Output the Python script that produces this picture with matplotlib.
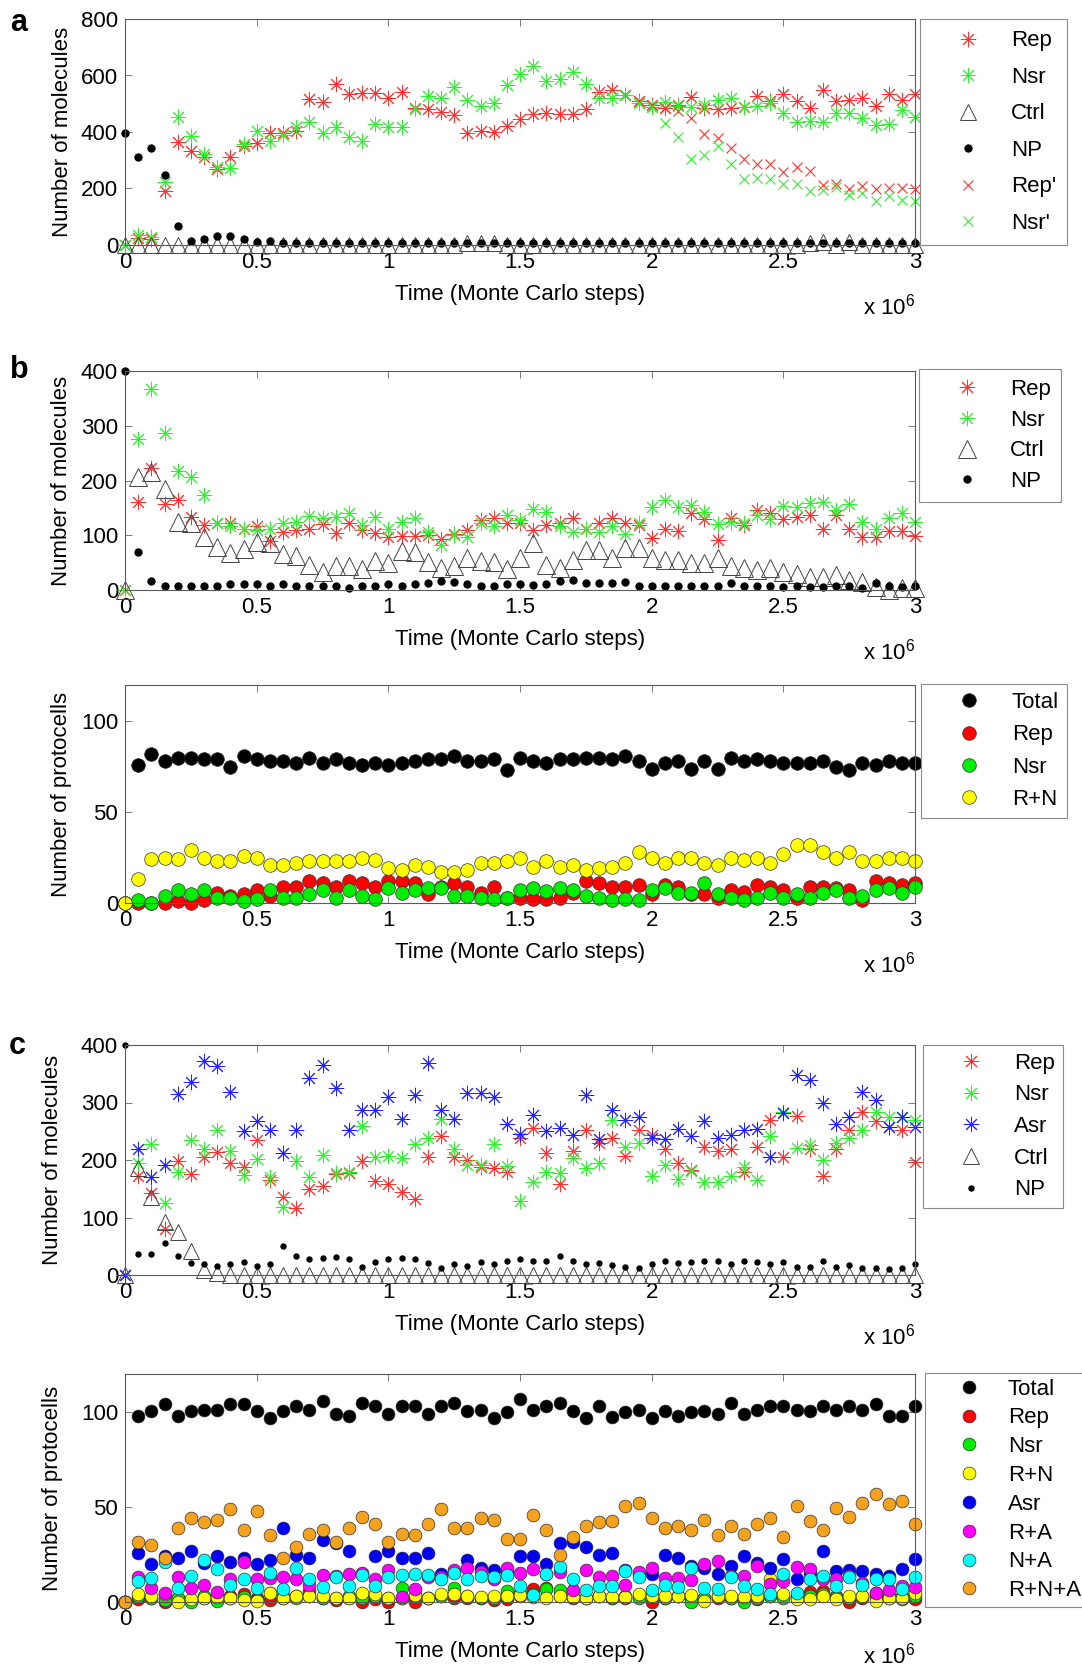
import numpy as np
import matplotlib
matplotlib.use("Agg")
import matplotlib.pyplot as plt
from matplotlib.transforms import offset_copy

plt.rcParams['font.family'] = 'Liberation Sans'
plt.rcParams['mathtext.fontset'] = 'custom'
plt.rcParams['mathtext.rm'] = 'Liberation Sans'

# time axis (units of 10^6 Monte Carlo steps), one sample every 0.05
steps = np.arange(61) * 0.05
nan = np.nan

# ---- panel a: molecules ----
a_rep = [0, 25, 20, 190, 365, 334, 313, 269, 310, 349,
         360, 396, 396, 405, 517, 506, 570, 533, 539, 539,
         521, 541, 485, 480, 471, 460, 395, 402, 400, 422,
         445, 462, 466, 462, 462, 482, 541, 548, 530, 509,
         494, 484, 494, 525, 484, 482, 484, 489, 527, 509,
         533, 509, 486, 548, 509, 512, 519, 492, 533, 515,
         533]
a_nsr = [0, 35, 29, 222, 454, 386, 322, 275, 274, 357,
         402, 369, 389, 416, 436, 395, 419, 384, 369, 427,
         416, 416, 482, 527, 521, 560, 515, 492, 501, 568,
         607, 632, 582, 588, 611, 570, 521, 521, 530, 503,
         489, 506, 492, 488, 497, 515, 521, 489, 492, 503,
         468, 437, 440, 436, 468, 468, 451, 425, 430, 477,
         454]
a_ctrl = [0, 0, 0, 0, 0, 0, 0, 0, 0, 0,
          0, 0, 0, 0, 0, 0, 0, 0, 0, 0,
          0, 0, 0, 0, 0, 0, 8, 6, 8, 0,
          0, 0, 0, 0, 0, 0, 0, 0, 0, 0,
          0, 0, 0, 0, 0, 0, 0, 0, 0, 0,
          0, 0, 8, 10, 0, 9, 0, 0, 0, 0,
          0]
a_np = [398, 313, 342, 248, 67, 15, 21, 32, 32, 21,
        12, 14, 7, 8, 7, 6, 7, 8, 7, 6,
        7, 8, 6, 7, 6, 7, 8, 7, 6, 7,
        6, 7, 8, 7, 6, 7, 6, 7, 8, 7,
        6, 8, 7, 6, 7, 8, 6, 7, 7, 6,
        7, 8, 6, 7, 7, 6, 8, 7, 6, 7,
        7]
a_rep2 = [nan] * 38 + [530, 509,
          494, 484, 474, 451, 392, 377, 342, 304, 287, 287,
          258, 275, 263, 211, 217, 199, 208, 197, 201, 201,
          197]
a_nsr2 = [nan] * 38 + [530, 503,
          489, 433, 384, 304, 318, 349, 287, 232, 238, 232,
          217, 217, 190, 196, 205, 178, 185, 156, 173, 160,
          156]

# ---- panel b: molecules ----
b_rep = [0, 161, 222, 157, 164, 134, 119, 123, 122, 112,
         116, 89, 106, 109, 112, 120, 105, 123, 109, 105,
         97, 98, 98, 100, 94, 103, 109, 128, 131, 123,
         122, 109, 119, 122, 131, 111, 122, 131, 123, 118,
         95, 111, 108, 140, 129, 92, 131, 119, 146, 140,
         129, 134, 137, 111, 137, 111, 96, 96, 108, 108,
         98]
b_nsr = [0, 275, 368, 286, 218, 207, 173, 123, 116, 112,
         109, 111, 122, 125, 135, 131, 134, 140, 119, 134,
         112, 125, 131, 106, 82, 100, 97, 122, 116, 137,
         128, 148, 142, 117, 106, 112, 106, 117, 103, 123,
         152, 164, 152, 156, 143, 120, 125, 122, 137, 129,
         154, 151, 159, 161, 146, 157, 125, 111, 131, 141,
         125]
b_ctrl = [0, 207, 216, 184, 125, 122, 96, 78, 67, 75,
          88, 85, 66, 63, 46, 33, 43, 43, 38, 53,
          50, 72, 69, 52, 40, 44, 58, 53, 52, 38,
          58, 85, 46, 40, 55, 73, 73, 58, 76, 76,
          58, 55, 55, 49, 49, 58, 44, 41, 36, 40,
          33, 30, 24, 24, 27, 19, 15, 6, 0, 3,
          3]
b_np = [400, 70, 17, 7, 7, 7, 7, 7, 11, 11,
        11, 7, 11, 7, 7, 7, 7, 4, 7, 7,
        11, 7, 11, 13, 17, 15, 11, 7, 7, 11,
        11, 9, 11, 17, 18, 13, 13, 13, 14, 7,
        7, 7, 7, 7, 7, 7, 13, 7, 7, 7,
        5, 7, 5, 5, 7, 7, 4, 12, 7, 5,
        7]

# ---- panel b: protocells ----
bb_total = [0, 76, 82, 78, 80, 80, 79, 79, 75, 81,
            79, 78, 78, 77, 80, 77, 79, 77, 76, 77,
            76, 77, 78, 79, 79, 81, 78, 78, 79, 73,
            80, 78, 77, 79, 79, 80, 80, 79, 81, 78,
            74, 77, 78, 74, 78, 74, 80, 78, 79, 78,
            77, 77, 77, 78, 75, 73, 77, 76, 78, 77,
            77]
bb_rep = [0, 0, 0, 0, 1, 0, 1.5, 5.5, 4, 5,
          7, 4, 9, 9, 12, 11, 9, 12, 11, 9,
          12, 12, 11, 5, 9, 11, 9, 5.5, 9, 3,
          3, 2, 2, 3, 5.5, 12, 11, 9, 9, 10,
          5, 10, 9, 5, 5, 2.5, 7, 6, 10, 9,
          7, 3, 9, 9, 8, 7, 1.5, 12, 11, 10,
          11]
bb_nsr = [0, 1.5, 0, 4, 7, 5, 7, 3, 3, 1,
          2, 7, 3, 3, 5, 7, 3, 7, 4, 2,
          8, 5.5, 7, 8, 8, 4, 4, 2.5, 2, 3,
          7, 8, 6.5, 8.5, 7, 4, 3, 1.5, 2, 1.5,
          7, 8, 5.5, 5.5, 11, 5, 3, 1.5, 2.5, 5.5,
          3, 5, 3, 5.5, 7, 3, 4, 7, 8, 5.5,
          9]
bb_rn = [0, 13, 24, 24.5, 24, 29, 25, 23, 23, 26,
         24.5, 21, 21, 22, 23, 23, 23, 23, 24.5, 23.5,
         19.5, 18, 21, 20, 17, 17, 18, 22, 22, 23,
         24.5, 20, 23, 20, 21, 18, 19, 20, 22, 28,
         25, 22, 24.5, 24.5, 22, 21, 25, 23.5, 24.5, 22,
         27, 32, 32, 28, 24.5, 28, 23, 23, 24.5, 25,
         23]

# ---- panel c: molecules ----
c_rep = [0, 172, 142, 80, 199, 176, 205, 214, 194, 188,
         234, 165, 135, 117, 149, 155, 175, 177, 198, 163,
         158, 144, 132, 206, 242, 206, 200, 188, 186, 180,
         238, 255, 212, 158, 216, 252, 230, 239, 207, 253,
         243, 220, 194, 183, 223, 216, 220, 179, 223, 270,
         206, 277, 220, 172, 219, 253, 284, 268, 258, 253,
         197]
c_nsr = [0, 194, 227, 126, 180, 235, 219, 253, 216, 174,
         201, 171, 119, 199, 171, 209, 177, 180, 259, 205,
         207, 204, 228, 238, 272, 220, 191, 191, 227, 190,
         129, 161, 180, 177, 203, 186, 194, 270, 222, 230,
         173, 191, 167, 181, 161, 162, 173, 188, 166, 242,
         284, 221, 226, 200, 230, 239, 252, 284, 275, 274,
         270]
c_asr = [0, 219, 171, 191, 314, 336, 373, 364, 319, 251,
         268, 253, 213, 253, 343, 366, 326, 252, 287, 287,
         310, 271, 313, 369, 287, 271, 316, 317, 310, 263,
         245, 278, 251, 256, 243, 313, 236, 287, 270, 274,
         239, 236, 254, 242, 268, 239, 243, 252, 254, 206,
         281, 347, 339, 299, 263, 274, 319, 304, 257, 274,
         257]
c_ctrl = [0, 186, 136, 93, 74, 41, 8, 4, 0, 0,
          0, 0, 0, 0, 0, 0, 0, 0, 0, 0,
          0, 0, 0, 0, 0, 0, 0, 0, 0, 0,
          0, 0, 0, 0, 0, 0, 0, 0, 0, 0,
          0, 0, 0, 0, 0, 0, 0, 0, 0, 0,
          0, 0, 0, 0, 0, 0, 0, 0, 0, 0,
          0]
c_np = [400, 36, 36, 55, 33, 21, 19, 16, 19, 22,
        16, 19, 50, 33, 27, 30, 32, 27, 14, 22,
        27, 30, 27, 21, 13, 19, 16, 22, 19, 24,
        27, 24, 24, 33, 25, 19, 21, 17, 14, 12,
        19, 25, 21, 22, 25, 25, 19, 25, 22, 19,
        22, 14, 14, 25, 14, 17, 12, 12, 10, 13,
        19]

# ---- panel c: protocells ----
cb_total = [0, 98, 100.5, 104, 98, 100.5, 101, 101, 104, 104,
            100.5, 97, 100.5, 103, 101, 106, 99, 98, 105, 103,
            99, 103, 103, 99, 103, 105, 100.5, 101, 97, 100,
            107, 101, 103, 105, 100.5, 97, 103, 97.5, 100, 101,
            97, 100.5, 98, 100, 100.5, 99, 104.5, 99, 101, 103,
            103, 101, 100.5, 103, 101, 103, 101, 104, 98, 98,
            103]
cb_rep = [0, 1.5, 2, 0, 2, 1, 2, 1, 3, 4,
          2, 1, 2, 3, 6, 2, 1, 2, 0, 1.5,
          0, 2, 0, 2, 3, 2, 2, 2, 1, 1.5,
          3, 7, 7.5, 3, 2, 2, 3, 2, 2, 3,
          0, 2, 3, 2, 2, 2, 2, 1, 1.5, 3,
          3, 2, 5.5, 6, 3, 0, 2, 3, 2, 3,
          1.5]
cb_nsr = [0, 3, 2, 1, 2, 0, 3, 0.5, 2, 2.5,
          1, 5, 3, 2, 3, 2, 2, 3, 2, 3,
          2, 7.5, 3, 2, 3, 7.5, 3, 2, 2, 6,
          5, 4, 7, 6.5, 3, 2, 3, 2, 3, 2,
          3, 2, 3, 0, 2, 3, 2, 0, 2, 3,
          2, 3, 3, 4, 2.5, 2, 3, 5, 3, 1.5,
          3]
cb_rn = [0, 4, 3, 4, 0, 1.5, 2, 2.5, 2, 1,
         0.5, 5, 2, 3, 3, 3, 2, 2, 4.5, 4,
         2, 2, 3.5, 2, 4, 4, 3, 2.5, 3, 3,
         3.5, 2.5, 2, 3, 2.5, 2, 3, 2.5, 2.5, 4,
         3, 3, 3, 3.5, 0.5, 3, 3, 2.5, 3, 12,
         4, 1.5, 1.5, 3, 1.5, 3, 3, 0.5, 2, 2,
         4.5]
cb_asr = [0, 26, 20, 24, 23, 27, 20.5, 24, 21, 23,
          20, 22, 39, 25, 23, 32.5, 31, 27, 15, 24,
          27, 23, 23, 26, 15, 16, 22, 18, 17, 16,
          24, 24, 20, 31, 31.5, 29, 24.5, 26, 17, 15,
          15, 24.5, 23, 19, 18, 15, 19, 24, 20.5, 18,
          22.5, 12, 15.5, 27, 16.5, 17, 16.5, 14.5, 13.5, 17.5,
          22.5]
cb_ra = [0, 13, 7.5, 5, 13, 7.5, 9, 5.5, 12, 21,
         12, 12.5, 13, 12, 9, 14, 13.5, 15, 15.5, 12,
         17, 2.5, 7, 13, 13, 17, 18, 16, 12, 18,
         15.5, 17.5, 15, 16, 6.5, 17, 13, 13.5, 9, 16,
         18, 12.5, 12.5, 11.5, 20, 21.5, 13.5, 13.5, 19, 9.5,
         11, 18.5, 17.5, 12, 12, 13.5, 10, 5, 6.5, 8.5,
         8]
cb_na = [0, 11, 12.5, 21, 7.5, 13.5, 22, 17.5, 9, 12,
         7.5, 15.5, 7, 18, 12, 8, 13, 8.5, 14, 8.5,
         13, 14, 14.5, 14, 12, 15.5, 12, 13.5, 13, 14,
         8.5, 3.5, 14.5, 18.5, 12, 6.5, 8.5, 8.5, 16.5, 13,
         6.5, 9, 8, 18, 7.5, 7, 13, 8.5, 7, 4,
         15, 4.5, 12, 13.5, 8.5, 13, 9, 12, 12, 7,
         13]
cb_rna = [0, 31.5, 30, 23, 39, 44, 42, 43, 49, 38,
          48, 35.5, 23, 29, 36, 38, 31.5, 39, 45, 41,
          31.5, 36, 35.5, 41, 49, 39, 39, 44, 43, 33,
          33, 46, 38, 24.5, 34, 40, 42, 42.5, 50.5, 52,
          44, 39, 40, 38, 43, 35.5, 40, 36, 41, 44,
          34, 50.5, 42.5, 38, 49.5, 45, 52, 57, 51.5, 53,
          41]

RED = '#ff3030'
GREEN = '#30ee30'
BLUE = '#2020ff'
AST = (8, 2, 0)
FS = 16
fs_px = FS * 100 / 72

W, H = 1082, 1669
fig = plt.figure(figsize=(W / 100, H / 100), dpi=100)


def axes_px(top, bottom, left=125, right=915):
    return fig.add_axes([left / W, 1 - bottom / H, (right - left) / W, (bottom - top) / H])


def style(ax, ymax, yticks, ylabel, lpad, x10=-62):
    ax.set_xlim(0, 3)
    ax.set_ylim(0, ymax)
    ax.set_xticks([0, 0.5, 1, 1.5, 2, 2.5, 3])
    ax.set_xticklabels(['0', '0.5', '1', '1.5', '2', '2.5', '3'])
    ax.set_yticks(yticks)
    ax.tick_params(direction='in', top=True, right=True, labelsize=FS,
                   length=5, width=0.6, color='#666666', pad=5)
    for s in ax.spines.values():
        s.set_color('#5a5a5a')
        s.set_linewidth(0.8)
    ax.set_xlabel('Time (Monte Carlo steps)', fontsize=FS, labelpad=8)
    ax.set_ylabel(ylabel, fontsize=FS, labelpad=lpad)
    tr = offset_copy(ax.transAxes, fig=fig, x=0, y=x10, units='dots')
    ax.text(1.0, 0, 'x 10$^6$', transform=tr, ha='right', va='center', fontsize=FS)


def legend_px(ax, left, top, pitch, height, hc=48, to=91):
    n = len(ax.get_legend_handles_labels()[1])
    th = 0.89 * fs_px
    ls = (pitch - th) / fs_px
    bp = (height - n * th - (n - 1) * ls * fs_px) / (2 * fs_px)
    hl = 2 * (hc - bp * fs_px) / fs_px
    htp = (to - bp * fs_px) / fs_px - hl
    leg = ax.legend(loc='upper left', bbox_to_anchor=(left / W, 1 - top / H),
                    bbox_transform=fig.transFigure, borderaxespad=0, fontsize=FS,
                    labelspacing=ls, borderpad=bp, handlelength=hl, handletextpad=htp,
                    fancybox=False, framealpha=1, edgecolor='#8a8a8a', numpoints=1)
    leg.get_frame().set_linewidth(0.8)


def pts(ax, y, marker, color, ms, label, filled=False, mew=1.0, ec=None):
    ax.plot(steps, y, linestyle='none', marker=marker, ms=ms,
            mec=ec if ec else color, mfc=color if filled else 'none',
            mew=mew, label=label, clip_on=False)


# panel a
ax = axes_px(19, 245)
pts(ax, a_rep, AST, RED, 11, 'Rep', mew=0.7)
pts(ax, a_nsr, AST, GREEN, 11, 'Nsr', mew=0.7)
pts(ax, a_ctrl, '^', '#444444', 11, 'Ctrl', mew=0.7)
pts(ax, a_np, 'o', 'black', 6, 'NP', filled=True, mew=0)
pts(ax, a_rep2, 'x', RED, 7, "Rep'", mew=0.8)
pts(ax, a_nsr2, 'x', GREEN, 7, "Nsr'", mew=0.8)
style(ax, 800, [0, 200, 400, 600, 800], 'Number of molecules', 6)
legend_px(ax, 920, 19, 35.3, 219)

# panel b, molecules
ax = axes_px(371, 590)
pts(ax, b_rep, AST, RED, 11, 'Rep', mew=0.7)
pts(ax, b_nsr, AST, GREEN, 11, 'Nsr', mew=0.7)
pts(ax, b_ctrl, '^', '#444444', 13, 'Ctrl', mew=0.7)
pts(ax, b_np, 'o', 'black', 6, 'NP', filled=True, mew=0)
style(ax, 400, [0, 100, 200, 300, 400], 'Number of molecules', 6)
legend_px(ax, 919, 369, 29.5, 128)

# panel b, protocells
ax = axes_px(685, 903)
pts(ax, bb_total, 'o', 'black', 9.8, 'Total', filled=True, mew=0.5, ec='#222222')
pts(ax, bb_rep, 'o', '#ff0000', 9.8, 'Rep', filled=True, mew=0.5, ec='#333333')
pts(ax, bb_nsr, 'o', '#00ee00', 9.8, 'Nsr', filled=True, mew=0.5, ec='#333333')
pts(ax, bb_rn, 'o', '#ffff00', 9.8, 'R+N', filled=True, mew=0.5, ec='#333333')
style(ax, 120, [0, 50, 100], 'Number of protocells', 6)
legend_px(ax, 921, 684, 31, 129)

# panel c, molecules
ax = axes_px(1045, 1275)
pts(ax, c_rep, AST, RED, 11, 'Rep', mew=0.7)
pts(ax, c_nsr, AST, GREEN, 11, 'Nsr', mew=0.7)
pts(ax, c_asr, AST, BLUE, 11, 'Asr', mew=0.7)
pts(ax, c_ctrl, '^', '#444444', 12, 'Ctrl', mew=0.7)
pts(ax, c_np, 'o', 'black', 4.6, 'NP', filled=True, mew=0)
style(ax, 400, [0, 100, 200, 300, 400], 'Number of molecules', 13)
legend_px(ax, 923, 1045, 30.4, 157)

# panel c, protocells
ax = axes_px(1374, 1602)
pts(ax, cb_total, 'o', 'black', 9.2, 'Total', filled=True, mew=0.5, ec='#222222')
pts(ax, cb_rep, 'o', '#ff0000', 9.2, 'Rep', filled=True, mew=0.5, ec='#333333')
pts(ax, cb_nsr, 'o', '#00ee00', 9.2, 'Nsr', filled=True, mew=0.5, ec='#333333')
pts(ax, cb_rn, 'o', '#ffff00', 9.2, 'R+N', filled=True, mew=0.5, ec='#333333')
pts(ax, cb_asr, 'o', '#0000ee', 9.2, 'Asr', filled=True, mew=0.5, ec='#222266')
pts(ax, cb_ra, 'o', '#ff00ff', 9.2, 'R+A', filled=True, mew=0.5, ec='#333333')
pts(ax, cb_na, 'o', '#00ffff', 9.2, 'N+A', filled=True, mew=0.5, ec='#333333')
pts(ax, cb_rna, 'o', '#f5a21c', 9.2, 'R+N+A', filled=True, mew=0.5, ec='#333333')
style(ax, 120, [0, 50, 100], 'Number of protocells', 13, x10=-54)
legend_px(ax, 925, 1373, 27.6, 224, hc=44, to=83)

for letter, x, y in [('a', 19, 23), ('b', 19, 370), ('c', 17, 1046)]:
    fig.text(x / W, 1 - y / H, letter, fontsize=22, fontweight='bold', ha='center', va='center')

fig.savefig('out.png', dpi=100)
